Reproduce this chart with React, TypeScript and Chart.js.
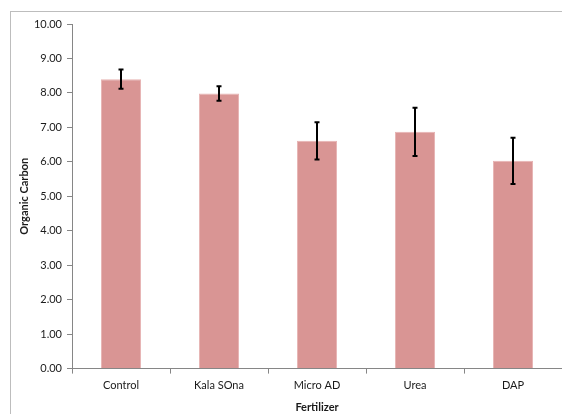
import React, { useEffect, useRef } from "react";
import { Chart, registerables } from "chart.js";

Chart.register(...registerables);

const categories = ["Control", "Kala SOna", "Micro AD", "Urea", "DAP"];
const organicCarbon = [8.4, 7.98, 6.61, 6.87, 6.03];
const errors = [0.28, 0.21, 0.54, 0.7, 0.67];
const yTicks = [0, 1, 2, 3, 4, 5, 6, 7, 8, 9, 10];

const FONT = "Lato, 'Open Sans', sans-serif";

const errorBarPlugin = {
  id: "errorBars",
  afterDatasetsDraw(chart: any) {
    const ctx = chart.ctx;
    const meta = chart.getDatasetMeta(0);
    const y = chart.scales.y;
    ctx.save();
    ctx.strokeStyle = "#000";
    ctx.lineWidth = 2;
    meta.data.forEach((bar: any, i: number) => {
      const v = organicCarbon[i];
      const e = errors[i];
      const x = Math.round(bar.x);
      const yt = y.getPixelForValue(v + e);
      const yb = y.getPixelForValue(v - e);
      ctx.beginPath();
      ctx.moveTo(x, yt);
      ctx.lineTo(x, yb);
      ctx.moveTo(x - 2.5, yt);
      ctx.lineTo(x + 2.5, yt);
      ctx.moveTo(x - 2.5, yb);
      ctx.lineTo(x + 2.5, yb);
      ctx.stroke();
    });
    ctx.restore();
  },
};

const borderPlugin = {
  id: "outerBorder",
  beforeDraw(chart: any) {
    const ctx = chart.ctx;
    ctx.save();
    ctx.fillStyle = "#fff";
    ctx.fillRect(0, 0, chart.width, chart.height);
    ctx.strokeStyle = "#bdbdbd";
    ctx.lineWidth = 1;
    ctx.strokeRect(10.5, 11.5, chart.width + 20, chart.height + 20);
    ctx.restore();
  },
};

export default function App() {
  const ref = useRef<HTMLCanvasElement>(null);
  useEffect(() => {
    document.body.style.margin = "0";
    const chart = new Chart(ref.current!, {
      type: "bar",
      data: {
        labels: categories,
        datasets: [
          {
            data: organicCarbon,
            backgroundColor: "#D99594",
            borderColor: "#E6B3B2",
            borderWidth: { left: 1, right: 1, top: 1, bottom: 0 },
            barPercentage: 0.82,
            categoryPercentage: 0.5,
          },
        ],
      },
      options: {
        animation: false,
        responsive: false,
        layout: { padding: { top: 24, left: 18, right: 0, bottom: 0 } },
        plugins: {
          legend: { display: false },
          tooltip: { enabled: false },
        },
        scales: {
          x: {
            grid: {
              offset: true,
              drawOnChartArea: false,
              drawTicks: true,
              tickLength: 5,
              color: "#868686",
            },
            border: { display: true, color: "#868686", width: 1 },
            ticks: {
              color: "#1a1a1a",
              font: { family: FONT, size: 11 },
              padding: 5,
            },
            title: {
              display: true,
              text: "Fertilizer",
              color: "#1a1a1a",
              font: { family: FONT, size: 11, weight: "bold" },
              padding: { top: 4, bottom: 0 },
            },
          },
          y: {
            min: 0,
            max: 10,
            afterBuildTicks(scale: any) {
              scale.ticks = yTicks.map((v) => ({ value: v }));
            },
            afterFit(scale: any) {
              scale.width = 54;
            },
            grid: {
              drawOnChartArea: false,
              drawTicks: true,
              tickLength: 5,
              color: "#868686",
            },
            border: { display: true, color: "#868686", width: 1 },
            ticks: {
              color: "#1a1a1a",
              font: { family: FONT, size: 11 },
              padding: 5,
              callback: (v: any) => Number(v).toFixed(2),
            },
            title: {
              display: true,
              text: "Organic Carbon",
              color: "#1a1a1a",
              font: { family: FONT, size: 11, weight: "bold" },
              padding: { top: 0, bottom: 4 },
            },
          },
        },
      },
      plugins: [borderPlugin, errorBarPlugin],
    });
    return () => chart.destroy();
  }, []);
  return <canvas ref={ref} width={562} height={414} style={{ display: "block" }} />;
}
